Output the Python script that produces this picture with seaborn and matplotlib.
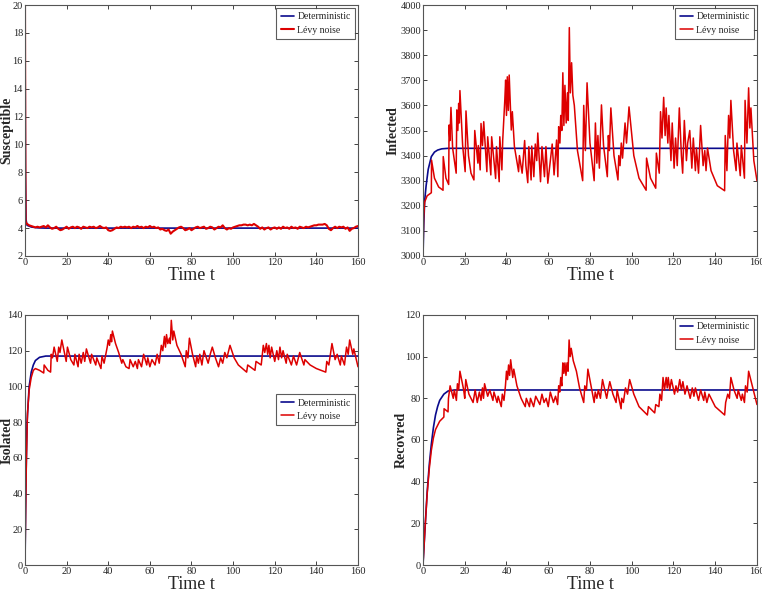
import numpy as np
import matplotlib
matplotlib.use("Agg")
import matplotlib.pyplot as plt
import seaborn as sns

# ---------------------------
# data
# ---------------------------
sus_det = [(0, 20.0), (0.2, 8.0), (0.5, 4.6), (1, 4.2), (3, 4.08), (6, 4.02), (10, 4.0), (160, 4.0)]
sus_levy_start = [(0, 20.0), (0.15, 10.0), (0.3, 4.5), (0.6, 4.35)]
sus_levy_vals = [4.3, 4.2, 4.15, 4.1, 4.05, 4.1, 4.05, 4.1, 4.15, 4.05,
                 4.2, 4.05, 3.95, 4.0, 4.1, 3.95, 3.85, 3.9, 4.0, 4.1,
                 3.95, 4.05, 4.1, 4.0, 4.1, 4.05, 3.95, 4.1, 4.05, 4.0,
                 4.1, 4.05, 4.1, 4.0, 4.05, 4.15, 4.05, 4.0, 4.05, 3.85,
                 3.8, 3.85, 3.95, 4.05, 4.0, 4.1, 4.05, 4.1, 4.05, 4.1,
                 4.0, 4.1, 4.05, 4.15, 4.05, 4.1, 4.0, 4.1, 4.05, 4.15,
                 4.05, 4.1, 4.0, 4.05, 3.9, 3.95, 3.85, 3.8, 3.9, 3.6,
                 3.75, 3.85, 3.95, 4.05, 4.1, 4.0, 3.85, 3.9, 4.0, 3.85,
                 3.95, 4.05, 4.1, 4.0, 4.05, 4.1, 3.95, 4.0, 4.1, 4.05,
                 3.9, 4.0, 4.1, 4.05, 4.2, 4.0, 3.9, 4.0, 3.95, 4.05,
                 4.1, 4.15, 4.2, 4.2, 4.25, 4.25, 4.2, 4.25, 4.2, 4.3,
                 4.2, 4.1, 3.95, 4.05, 3.9, 4.0, 4.05, 3.9, 4.0, 4.05,
                 3.95, 4.05, 3.95, 4.1, 4.0, 4.05, 3.95, 4.1, 4.0, 4.05,
                 3.95, 4.1, 4.05, 4.0, 4.1, 4.05, 4.1, 4.15, 4.2, 4.2,
                 4.25, 4.25, 4.25, 4.3, 4.2, 3.95, 3.85, 4.0, 4.1, 4.0,
                 4.1, 4.05, 4.1, 3.95, 4.05, 3.8, 3.95, 4.0, 4.1, 4.15]

inf_det = [(0, 3000), (0.4, 3130), (0.8, 3220), (1.5, 3280), (2.5, 3345), (4, 3396),
           (5.5, 3414), (7, 3422), (9, 3427), (12, 3429), (160, 3429)]
inf_levy = [(0, 3000), (0.3, 3150), (0.8, 3215), (2, 3240), (4.0, 3252), (4.1, 3382),
            (5.5, 3310), (7.5, 3275), (9.6, 3262), (9.7, 3396), (11, 3310), (12.3, 3285),
            (12.5, 3522), (12.9, 3460), (13.4, 3592), (14.2, 3430), (15.9, 3330),
            (16.2, 3582), (16.7, 3500), (17.1, 3608), (17.4, 3530), (17.7, 3659),
            (19.0, 3440), (20.2, 3336), (20.6, 3578), (21.8, 3400), (23.0, 3330),
            (24.4, 3303), (24.8, 3500), (26.3, 3370), (26.5, 3440), (27.4, 3343),
            (27.8, 3528), (28.5, 3440), (29.1, 3535), (30.6, 3336), (31.0, 3475),
            (32.5, 3323), (32.9, 3475), (34.8, 3309), (35.2, 3436), (36.5, 3296),
            (36.8, 3475), (37.8, 3343), (38.2, 3462), (39.2, 3622), (39.6, 3701),
            (40.0, 3560), (40.4, 3714), (40.9, 3580), (41.3, 3721), (42.3, 3502),
            (42.8, 3575), (43.8, 3436), (45.8, 3336), (46.2, 3400), (47.5, 3330),
            (48.7, 3460), (49.3, 3360), (50.2, 3292), (50.7, 3436), (51.8, 3303),
            (52.1, 3438), (53.1, 3316), (53.8, 3446), (54.5, 3380), (55.0, 3490),
            (56.3, 3296), (57.0, 3436), (58.2, 3316), (58.9, 3436), (59.8, 3290),
            (61.9, 3446), (62.8, 3323), (64.0, 3462), (64.6, 3316), (65.0, 3515),
            (65.6, 3450), (66.0, 3560), (66.5, 3500), (67.0, 3730), (67.5, 3520),
            (68.0, 3680), (68.6, 3530), (69.2, 3650), (69.6, 3540), (70.1, 3910),
            (70.6, 3650), (71.2, 3770), (71.8, 3640), (72.5, 3600), (74.0, 3420),
            (76.5, 3300), (77.0, 3600), (77.8, 3420), (78.6, 3690), (80.0, 3450),
            (82.0, 3300), (82.6, 3530), (83.3, 3370), (83.8, 3480), (84.5, 3350),
            (85.5, 3602), (86.5, 3440), (88.3, 3316), (88.8, 3480), (89.3, 3420),
            (90.0, 3590), (91.5, 3400), (93.4, 3303), (93.8, 3400), (94.4, 3360),
            (95.0, 3450), (95.6, 3390), (96.8, 3530), (97.5, 3450), (98.7, 3594),
            (101.0, 3400), (103.5, 3310), (106.9, 3262), (107.1, 3390), (109.0, 3310),
            (111.5, 3270), (111.8, 3410), (113.2, 3330), (113.8, 3575), (114.5, 3470),
            (115.3, 3632), (116.0, 3480), (116.5, 3590), (117.3, 3450), (117.8, 3560),
            (118.8, 3380), (119.4, 3530), (120.3, 3350), (121.0, 3470), (121.8, 3360),
            (122.8, 3590), (123.8, 3400), (124.4, 3330), (125.2, 3540), (126.2, 3380),
            (126.8, 3450), (127.8, 3500), (128.8, 3350), (129.5, 3470), (130.5, 3340),
            (131.0, 3430), (132.0, 3330), (133.0, 3520), (134.2, 3360), (135.0, 3420),
            (135.6, 3340), (136.3, 3430), (138.0, 3340), (141.0, 3280), (144.5, 3260),
            (144.8, 3480), (145.6, 3340), (146.4, 3560), (147.0, 3470), (147.5, 3620),
            (148.8, 3420), (150.0, 3340), (150.4, 3450), (152.0, 3320), (152.5, 3440),
            (154.0, 3310), (154.3, 3620), (155.2, 3450), (156.0, 3670), (156.6, 3510),
            (157.1, 3590), (158.5, 3380), (160.0, 3300)]

iso_det = [(0, 0), (0.5, 50), (1, 80), (2, 100), (3, 108), (4, 112), (5, 114.5),
           (7, 116.3), (10, 117), (160, 117)]
iso_levy = [(0, 0), (0.3, 30), (0.7, 60), (1.2, 85), (2, 98), (3, 105), (4, 109),
            (5, 110), (7, 109), (9, 107.5), (9.2, 112), (11, 109), (12.3, 108),
            (12.6, 118), (13.2, 116), (14.0, 122), (15.5, 114), (16.2, 122), (16.8, 119),
            (17.7, 126), (19.8, 114), (20.4, 122), (22.0, 115), (23.5, 112), (24.0, 118),
            (25.5, 111), (26.0, 118), (27.0, 113), (28.0, 119), (28.7, 114), (29.5, 121),
            (31.5, 113), (32.0, 118), (34.0, 112), (34.5, 116), (36.5, 110), (37.0, 117),
            (38.0, 113), (39.5, 122), (40.0, 126), (40.6, 123), (41.2, 129), (41.6, 125),
            (42.0, 131), (43.5, 124), (45.0, 119), (46.5, 113), (47.0, 115), (48.5, 111),
            (50.0, 110), (50.5, 115), (52.0, 111), (53.0, 114), (54.0, 110), (54.5, 115),
            (56.0, 111), (57.0, 118), (58.5, 112), (59.0, 116), (60.0, 111), (61.0, 115),
            (62.5, 112), (63.5, 118), (64.5, 113), (65.5, 123), (66.2, 120), (67.0, 128),
            (67.5, 122), (68.0, 129), (68.6, 124), (69.4, 127), (69.8, 124), (70.3, 137),
            (71.0, 126), (71.5, 131), (73.0, 123), (75.0, 118), (77.0, 111), (77.5, 120),
            (78.3, 116), (79.0, 127), (80.5, 118), (82.0, 111), (82.5, 117), (83.3, 113),
            (84.0, 118), (85.0, 112), (86.0, 120), (88.0, 113), (89.0, 118), (90.0, 122),
            (91.5, 116), (93.0, 111), (94.0, 116), (95.0, 113), (96.0, 119), (97.0, 116),
            (98.5, 123), (100.5, 116), (102.5, 112), (106.5, 108), (107.0, 112),
            (110.5, 109), (111.0, 114), (113.5, 112), (114.5, 123), (115.2, 119),
            (116.0, 124), (116.6, 118), (117.2, 123), (117.8, 116), (118.5, 122),
            (120.0, 114), (121.0, 120), (121.8, 115), (122.5, 122), (123.3, 116),
            (124.0, 120), (125.5, 113), (126.0, 118), (128.0, 112), (129.0, 117),
            (130.5, 112), (132.0, 119), (134.0, 112), (134.5, 115), (137.0, 112),
            (140.0, 110), (144.5, 108), (145.0, 114), (146.0, 112), (147.5, 124),
            (149.0, 115), (150.0, 118), (151.5, 112), (152.0, 117), (153.5, 112),
            (154.5, 122), (155.3, 118), (156.0, 126), (157.5, 118), (158.0, 121),
            (160.0, 111)]

rec_det = [(0, 0), (1, 18), (2, 35), (3, 48), (4, 58), (5, 66), (6, 72), (7, 76),
           (8, 79), (10, 82), (12, 83.5), (15, 84), (160, 84)]
rec_levy = [(0, 0), (1, 18), (2, 34), (3, 46), (4, 55), (5, 61), (6, 65), (8, 69),
            (10, 71), (10.1, 75), (12, 73.5), (12.2, 80), (13.0, 86), (14.5, 80),
            (15.0, 84), (16.0, 79), (16.5, 87), (17.1, 84), (17.7, 93), (19.5, 84),
            (20.0, 80), (20.5, 89), (22.0, 82), (24.0, 78), (25.0, 84), (26.0, 78),
            (27.0, 83), (27.8, 79), (28.5, 85), (29.0, 80), (29.5, 87), (31.0, 81),
            (32.0, 84), (33.5, 79), (34.0, 83), (35.5, 78), (36.0, 81), (37.5, 76),
            (38.0, 82), (38.8, 79), (39.5, 86), (40.0, 93), (40.5, 89), (41.0, 96),
            (41.5, 91), (42.0, 98.5), (43.0, 90), (43.5, 94), (45.0, 86), (47.0, 80),
            (49.0, 76), (49.5, 80), (51.0, 76), (51.5, 80), (53.0, 76), (54.0, 81),
            (56.0, 77), (57.0, 82), (58.0, 78), (59.0, 80), (60.0, 76), (61.0, 83),
            (62.5, 78), (63.5, 81), (64.5, 77), (65.0, 86), (65.5, 83), (66.0, 90),
            (66.5, 86), (67.0, 97), (67.5, 92), (68.0, 97), (68.5, 91), (69.0, 97),
            (69.5, 93), (70.0, 108), (70.5, 100), (71.0, 104), (72.0, 98), (73.5, 93),
            (75.0, 85), (77.0, 78), (77.5, 86), (78.3, 84), (79.0, 94), (80.5, 86),
            (82.0, 78), (82.5, 83), (83.3, 80), (84.0, 84), (85.0, 80), (86.0, 89),
            (88.0, 80), (88.5, 83), (89.5, 88), (91.0, 82), (92.5, 78), (93.0, 84),
            (94.9, 75), (95.2, 80), (96.0, 78), (97.0, 85), (98.0, 82), (99.0, 89),
            (101.0, 82), (103.5, 76), (107.5, 72), (108.0, 76), (111.0, 73),
            (111.5, 77), (113.0, 76), (113.5, 82), (114.3, 79), (115.0, 90),
            (115.7, 84), (116.5, 90), (117.0, 85), (117.5, 90), (118.2, 84),
            (119.0, 89), (120.5, 82), (121.2, 86), (122.0, 83), (123.0, 89),
            (123.8, 84), (124.5, 88), (125.5, 82), (126.5, 86), (128.0, 80),
            (129.0, 85), (129.8, 81), (130.5, 85), (132.0, 79), (133.0, 84),
            (134.5, 79), (135.0, 83), (136.0, 78), (137.0, 82), (140.0, 76),
            (144.5, 72), (145.0, 78), (146.0, 82), (146.8, 80), (147.5, 90),
            (149.0, 84), (150.5, 80), (151.0, 84), (152.5, 79), (153.0, 82),
            (154.0, 78), (154.5, 86), (155.3, 83), (156.0, 93), (158.0, 85),
            (159.0, 81), (160.0, 77)]

# ---------------------------
# style
# ---------------------------
sns.set_style("ticks")
plt.rcParams['font.family'] = ['Liberation Serif', 'DejaVu Serif']
plt.rcParams['axes.edgecolor'] = '#555555'
plt.rcParams['axes.linewidth'] = 0.8
plt.rcParams['xtick.direction'] = 'in'
plt.rcParams['ytick.direction'] = 'in'

blue = '#0a0a8c'
red = '#dd0000'

fig = plt.figure(figsize=(7.62, 5.97), dpi=100)

boxes = [
    [0.0328, 0.5712, 0.437, 0.4204],
    [0.5551, 0.5712, 0.4383, 0.4204],
    [0.0328, 0.0536, 0.437, 0.4188],
    [0.5551, 0.0536, 0.4383, 0.4188],
]

sus_levy = sus_levy_start + list(zip(range(1, 161), sus_levy_vals))

# name, deterministic, levy, ylim, yticks, legend anchor, ylabel x (axes frac), red width
panels = [
    ("Susceptible", sus_det, sus_levy, (2, 20), np.arange(2, 21, 2), (1.0, 1.0), -0.035, 1.5),
    ("Infected", inf_det, inf_levy, (3000, 4000), np.arange(3000, 4001, 100), (1.0, 1.0), -0.07, 1.1),
    ("Isolated", iso_det, iso_levy, (0, 140), np.arange(0, 141, 20), (1.0, 0.695), -0.033, 1.1),
    ("Recovred", rec_det, rec_levy, (0, 120), np.arange(0, 121, 20), (1.0, 1.0), -0.046, 1.1),
]

for box, (name, det, levy, ylim, yticks, anchor, labx, lw) in zip(boxes, panels):
    ax = fig.add_axes(box)
    dt, dv = zip(*det)
    lt, lv = zip(*levy)
    sns.lineplot(x=list(dt), y=list(dv), ax=ax, color=blue, linewidth=1.2,
                 label="Deterministic", sort=False, estimator=None)
    sns.lineplot(x=list(lt), y=list(lv), ax=ax, color=red, linewidth=lw,
                 label="L\u00e9vy noise", sort=False, estimator=None)
    ax.set_xlim(0, 160)
    ax.set_ylim(*ylim)
    ax.set_xticks(np.arange(0, 161, 20))
    ax.set_yticks(yticks)
    ax.tick_params(labelsize=7.5, length=3, width=0.6, top=True, right=True,
                   colors='#222222', pad=1.5)
    for s in ax.spines.values():
        s.set_visible(True)
        s.set_color('#555555')
    ax.set_xlabel("Time t", fontsize=13, labelpad=0)
    ax.set_ylabel(name, fontsize=10, fontweight='bold')
    ax.yaxis.set_label_coords(labx, 0.5)
    leg = ax.legend(loc="upper right", bbox_to_anchor=anchor, fontsize=7, frameon=True,
                    fancybox=False, handlelength=1.4, handletextpad=0.3,
                    borderpad=0.45, labelspacing=0.45, borderaxespad=0.3)
    leg.get_frame().set_edgecolor('#333333')
    leg.get_frame().set_linewidth(0.8)

plt.savefig("out.png", dpi=100)
plt.close()
